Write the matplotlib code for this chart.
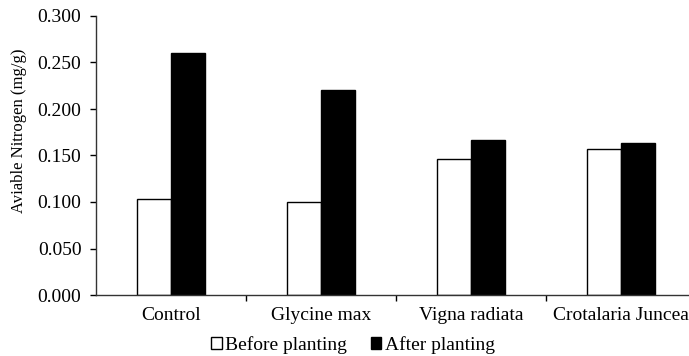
"""Available nitrogen before and after planting, grouped bar chart."""

import matplotlib

matplotlib.use("Agg")
import matplotlib.pyplot as plt
from matplotlib.patches import Patch
from matplotlib.ticker import FixedLocator, MultipleLocator, FormatStrFormatter
import numpy as np

CATEGORIES = ["Control", "Glycine max", "Vigna radiata", "Crotalaria Juncea"]
BEFORE = [0.103, 0.100, 0.146, 0.157]
AFTER = [0.260, 0.220, 0.167, 0.163]
SERIES_LABELS = ["Before planting", "After planting"]

BAR_WIDTH = 0.227
FONT = ["Liberation Serif", "DejaVu Serif"]
TEXT_SIZE = 14


def main() -> None:
    plt.rcParams["font.family"] = FONT
    fig = plt.figure(figsize=(6.89, 3.56), dpi=100)
    ax = fig.add_axes([96 / 689, 61 / 356, 600 / 689, 279 / 356])

    x = np.arange(len(CATEGORIES))
    ax.bar(x - BAR_WIDTH / 2, BEFORE, BAR_WIDTH, color="white", edgecolor="black", linewidth=1.0)
    ax.bar(x + BAR_WIDTH / 2, AFTER, BAR_WIDTH, color="black", edgecolor="black", linewidth=1.0)

    ax.set_xlim(-0.5, len(CATEGORIES) - 0.5)
    ax.set_ylim(0, 0.300)
    ax.yaxis.set_major_locator(MultipleLocator(0.05))
    ax.yaxis.set_major_formatter(FormatStrFormatter("%.3f"))
    ax.set_xticks(x)
    ax.set_xticklabels(CATEGORIES)
    ax.xaxis.set_minor_locator(FixedLocator(x[:-1] + 0.5))
    ax.tick_params(axis="x", which="major", length=0, pad=9, labelsize=TEXT_SIZE)
    ax.tick_params(axis="x", which="minor", length=4, width=1.0, direction="out")
    ax.tick_params(axis="y", length=4.5, width=1.0, direction="out", labelsize=TEXT_SIZE, pad=6)

    for side in ("top", "right"):
        ax.spines[side].set_visible(False)
    for side in ("left", "bottom"):
        ax.spines[side].set_linewidth(1.0)
        ax.spines[side].set_color("#333333")

    ax.set_ylabel("Aviable Nitrogen (mg/g)", fontsize=12)
    ax.yaxis.set_label_coords(-0.115, 0.588)

    handles = [
        Patch(facecolor="white", edgecolor="black", linewidth=1.0, label=SERIES_LABELS[0]),
        Patch(facecolor="black", edgecolor="black", linewidth=1.0, label=SERIES_LABELS[1]),
    ]
    fig.legend(
        handles=handles,
        loc="center",
        bbox_to_anchor=(353 / 689, 11 / 356),
        ncol=2,
        frameon=False,
        fontsize=TEXT_SIZE,
        handlelength=0.55,
        handleheight=0.55,
        handletextpad=0.2,
        columnspacing=1.2,
        borderpad=0,
    )

    fig.savefig("out.png", dpi=100)
    plt.close(fig)


if __name__ == "__main__":
    main()
